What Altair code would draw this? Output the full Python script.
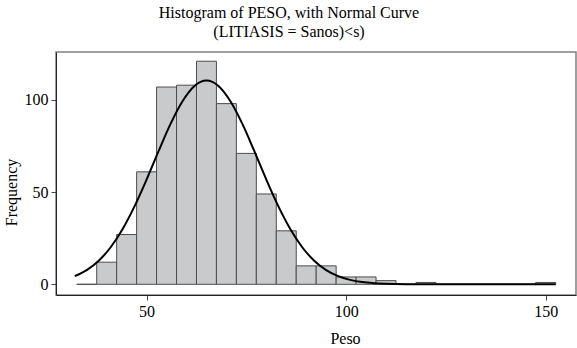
import altair as alt
import pandas as pd

# Histogram bins (centers) and frequencies
bin_centers = [35, 40, 45, 50, 55, 60, 65, 70, 75, 80, 85, 90, 95, 100,
               105, 110, 115, 120, 125, 130, 135, 140, 145, 150]
counts = [0, 12, 27, 61, 107, 108, 121, 98, 71, 49, 29, 10, 10, 4,
          4, 2, 0, 1, 0, 0, 0, 0, 0, 1]

# Normal curve points
curve_x = [32, 35, 38, 41, 44, 47, 50, 53, 56, 59, 62, 65, 68, 71, 74, 77,
           80, 83, 86, 89, 92, 95, 98, 101, 104, 107, 110, 115, 120, 130,
           140, 152.5]
curve_y = [4.4, 7.7, 12.8, 20.1, 30.0, 42.4, 56.8, 72.2, 87.0, 99.3, 107.6,
           110.5, 107.6, 99.3, 87.0, 72.2, 56.8, 42.4, 30.0, 20.1, 12.8, 7.7,
           4.4, 2.4, 1.2, 0.6, 0.3, 0.05, 0.0, 0.0, 0.0, 0.0]

x_ticks = [50, 100, 150]
y_ticks = [0, 50, 100]

hist_df = pd.DataFrame({"center": bin_centers, "count": counts})
curve_df = pd.DataFrame({"x": curve_x, "y": curve_y})

FONT = "Liberation Serif"

xscale = alt.Scale(domain=[27.3, 157.6], nice=False, zero=False)
yscale = alt.Scale(domain=[-5.8, 126], nice=False, zero=False)

bars = alt.Chart(hist_df).transform_calculate(
    x0="datum.center - 2.5", x1="datum.center + 2.5"
).mark_rect(fill="#c9cacc", stroke="#4d4d4d", strokeWidth=1).encode(
    x=alt.X("x0:Q", scale=xscale,
            axis=alt.Axis(values=x_ticks, title="Peso", grid=False,
                          tickSize=5, labelPadding=3, labelFontSize=16,
                          labelFont=FONT, titleFont=FONT, titleFontSize=16,
                          titleFontWeight="normal", titleColor="black",
                          labelColor="black", domainColor="#222",
                          tickColor="#444", titleX=289, titleY=43,
                          titleBaseline="middle", titleAlign="center")),
    x2="x1:Q",
    y=alt.Y("count:Q", scale=yscale,
            axis=alt.Axis(values=y_ticks, title="Frequency", grid=False,
                          tickSize=5, labelPadding=3, labelFontSize=16,
                          labelFont=FONT, titleFont=FONT, titleFontSize=16,
                          titleFontWeight="normal", titleColor="black",
                          labelColor="black", domainColor="#222",
                          tickColor="#444", titleAngle=-90, titleX=-45,
                          titleY=140, titleBaseline="middle",
                          titleAlign="center")),
    y2=alt.Y2(datum=0),
)

curve = alt.Chart(curve_df).mark_line(
    color="black", strokeWidth=2, interpolate="monotone"
).encode(
    x=alt.X("x:Q", scale=xscale),
    y=alt.Y("y:Q", scale=yscale),
)

chart = alt.layer(bars, curve).properties(
    width=520,
    height=243,
    title=alt.TitleParams(
        text=["Histogram of PESO, with Normal Curve", "(LITIASIS = Sanos)<s)"],
        font=FONT, fontSize=16, fontWeight="normal", color="black",
        anchor="middle", dx=-27, offset=12, lineHeight=19,
    ),
    padding={"left": 56, "top": 52, "right": 1, "bottom": 53},
    autosize=alt.AutoSizeParams(type="none"),
).configure_view(stroke="#808080", strokeWidth=1.5)

chart.save("out.html", embed_options={"renderer": "svg", "actions": False})
